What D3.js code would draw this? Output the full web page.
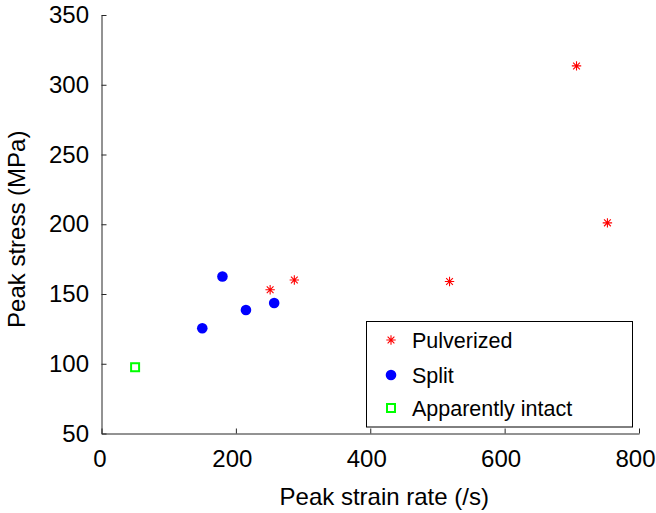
<!DOCTYPE html>
<html>
<head>
<meta charset="utf-8">
<script src="https://cdn.jsdelivr.net/npm/d3@7"></script>
<style>
  body { margin: 0; background: #fff; }
  text { font-family: "Liberation Sans", Arial, sans-serif; fill: #000; }
</style>
</head>
<body>
<div id="chart"></div>
<script>
// peak strain rate (/s) and peak stress (MPa), per fracture outcome
const pulverizedX = [251, 287, 518, 707, 753];
const pulverizedY = [153, 160, 159, 313.5, 201];
const splitX = [150, 180, 215, 257];
const splitY = [125.5, 162.5, 138.5, 143.5];
const intactX = [50];
const intactY = [97.5];

const xTicks = [0, 200, 400, 600, 800];
const yTicks = [50, 100, 150, 200, 250, 300, 350];
const legendLabels = ['Pulverized', 'Split', 'Apparently intact'];

const width = 656, height = 513;
const margin = { top: 15, right: 17, bottom: 79.5, left: 101.5 };

const svg = d3.select('#chart').append('svg')
  .attr('width', width).attr('height', height);

const x = d3.scaleLinear().domain([0, 800]).range([margin.left, width - margin.right]);
const y = d3.scaleLinear().domain([50, 350]).range([height - margin.bottom, margin.top]);

// axes, ticks pointing inward
const xAxis = svg.append('g')
  .attr('transform', `translate(0,${height - margin.bottom})`)
  .call(d3.axisBottom(x).tickValues(xTicks).tickSizeInner(-5).tickSizeOuter(0).tickPadding(16));
const yAxis = svg.append('g')
  .attr('transform', `translate(${margin.left},0)`)
  .call(d3.axisLeft(y).tickValues(yTicks).tickSizeInner(-5).tickSizeOuter(0).tickPadding(12.5));

[xAxis, yAxis].forEach(a => {
  a.attr('font-size', null).attr('font-family', null);
  a.selectAll('.domain').attr('stroke', '#262626');
  a.selectAll('.tick line').attr('stroke', '#262626');
  a.selectAll('.tick text').style('font-size', '24px');
});
// labels sit a little left of their ticks in the original
xAxis.selectAll('.tick text').attr('dx', d => d === 0 ? -2 : -4);

svg.append('text')
  .attr('x', (margin.left + width - margin.right) / 2 + 14)
  .attr('y', 505)
  .attr('text-anchor', 'middle')
  .style('font-size', '24px')
  .text('Peak strain rate (/s)');

svg.append('text')
  .attr('transform', `translate(25,${(margin.top + height - margin.bottom) / 2 + 5}) rotate(-90)`)
  .attr('text-anchor', 'middle')
  .style('font-size', '24px')
  .text('Peak stress (MPa)');

// marker drawers
const starPath = s => `M${-s},0H${s}M0,${-s}V${s}M${-s * 0.72},${-s * 0.72}L${s * 0.72},${s * 0.72}M${-s * 0.72},${s * 0.72}L${s * 0.72},${-s * 0.72}`;

function drawStar(g, cx, cy) {
  g.append('path').attr('d', starPath(4.7))
    .attr('transform', `translate(${cx},${cy})`)
    .attr('fill', 'none').attr('stroke', '#ff0000').attr('stroke-width', 1.1);
}
function drawDot(g, cx, cy) {
  g.append('circle').attr('cx', cx).attr('cy', cy).attr('r', 5.3).attr('fill', '#0000ff');
}
function drawSquare(g, cx, cy) {
  g.append('rect').attr('x', cx - 4).attr('y', cy - 4).attr('width', 8).attr('height', 8)
    .attr('fill', 'none').attr('stroke', '#00ff00').attr('stroke-width', 2);
}

const pts = svg.append('g');
pulverizedX.forEach((v, i) => drawStar(pts, x(v), y(pulverizedY[i])));
splitX.forEach((v, i) => drawDot(pts, x(v), y(splitY[i])));
intactX.forEach((v, i) => drawSquare(pts, x(v), y(intactY[i])));

// legend
const lg = svg.append('g');
lg.append('rect').attr('x', 366.5).attr('y', 321.5).attr('width', 266).attr('height', 105.5)
  .attr('fill', '#fff').attr('stroke', '#000').attr('stroke-width', 1);
const rowY = [340, 375, 408];
const drawers = [drawStar, drawDot, drawSquare];
legendLabels.forEach((lab, i) => {
  drawers[i](lg, 391, rowY[i]);
  lg.append('text').attr('x', 412).attr('y', rowY[i] + 7.5)
    .style('font-size', '21.5px').text(lab);
});
</script>
</body>
</html>
